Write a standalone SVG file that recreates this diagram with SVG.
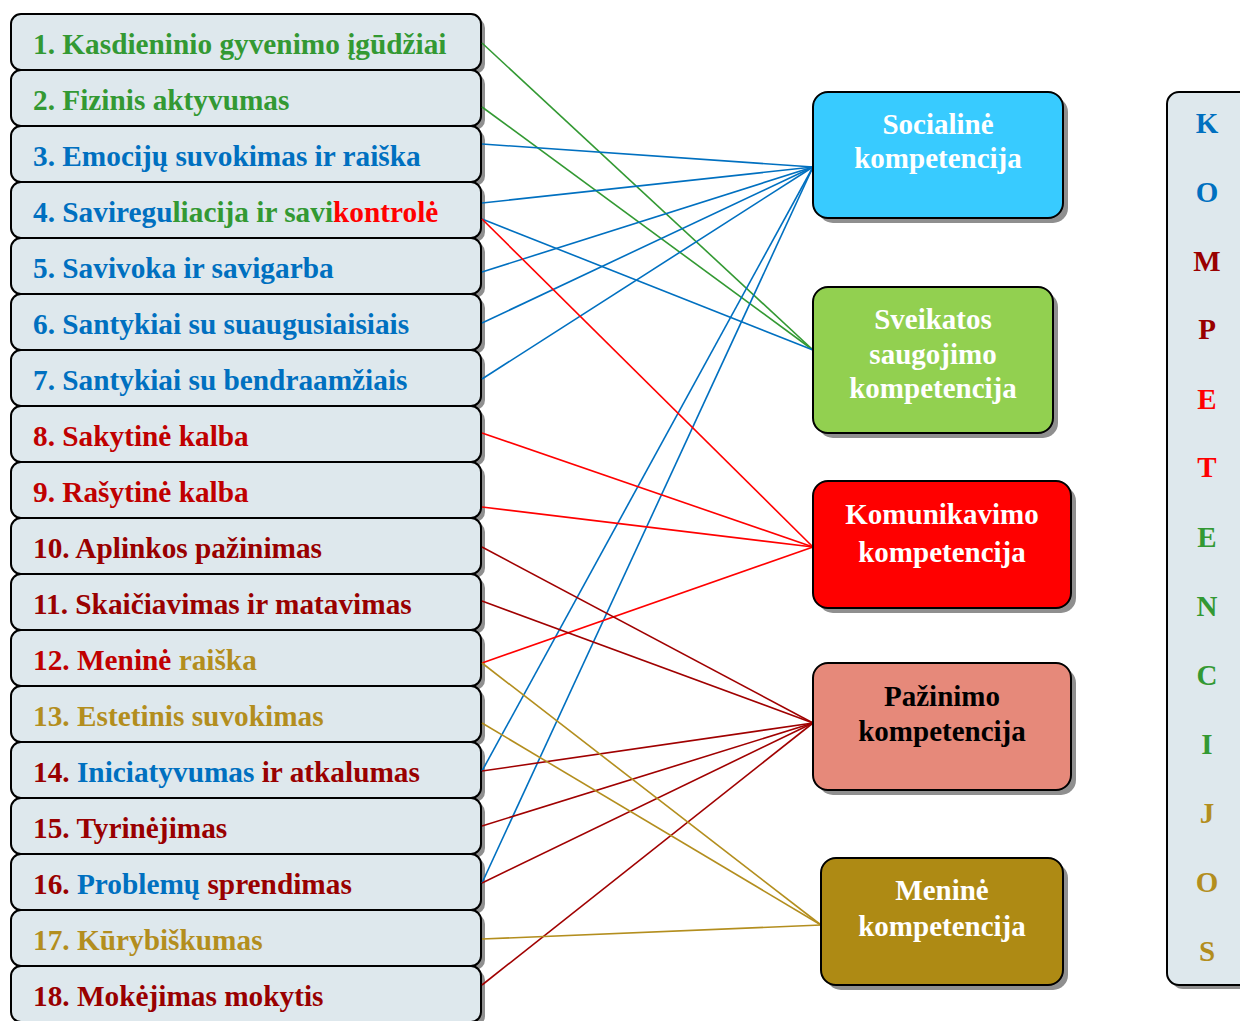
<svg xmlns="http://www.w3.org/2000/svg" width="1240" height="1021" viewBox="0 0 1240 1021">
<defs>
<style>
.lb{fill:#DEE8ED;stroke:#000;stroke-width:2}
.sh{fill:#8f8f8f}
.lt{font-family:"Liberation Serif","Times New Roman",serif;font-weight:bold;font-size:29.3px}
.ct{font-family:"Liberation Serif","Times New Roman",serif;font-weight:bold;font-size:29px;text-anchor:middle}
.rb{stroke:#000;stroke-width:2}
.g{fill:#339933}.b{fill:#0070C0}.r{fill:#FF0000}.dr{fill:#C00000}.mr{fill:#990000}.au{fill:#B38E1E}.w{fill:#fff}.k{fill:#000}
#conn line{stroke-width:1.6;fill:none}
.lg{stroke:#339933}.lbl{stroke:#0070C0}.lr{stroke:#FF0000}.lm{stroke:#A00000}.la{stroke:#B38E1E}
</style>
</defs>
<rect width="1240" height="1021" fill="#fff"/>

<g id="item1"><rect class="sh" x="15" y="18" width="470" height="56" rx="10"/><rect class="lb" x="11" y="14" width="470" height="56" rx="10"/><text class="lt g" x="33" y="54">1. Kasdieninio gyvenimo įgūdžiai</text></g>
<g id="item2"><rect class="sh" x="15" y="74" width="470" height="56" rx="10"/><rect class="lb" x="11" y="70" width="470" height="56" rx="10"/><text class="lt g" x="33" y="110">2. Fizinis aktyvumas</text></g>
<g id="item3"><rect class="sh" x="15" y="130" width="470" height="56" rx="10"/><rect class="lb" x="11" y="126" width="470" height="56" rx="10"/><text class="lt b" x="33" y="166">3. Emocijų suvokimas ir raiška</text></g>
<g id="item4"><rect class="sh" x="15" y="186" width="470" height="56" rx="10"/><rect class="lb" x="11" y="182" width="470" height="56" rx="10"/><text class="lt" x="33" y="222"><tspan class="b">4. Saviregu</tspan><tspan class="g">liacija ir savi</tspan><tspan class="r">kontrolė</tspan></text></g>
<g id="item5"><rect class="sh" x="15" y="242" width="470" height="56" rx="10"/><rect class="lb" x="11" y="238" width="470" height="56" rx="10"/><text class="lt b" x="33" y="278">5. Savivoka ir savigarba</text></g>
<g id="item6"><rect class="sh" x="15" y="298" width="470" height="56" rx="10"/><rect class="lb" x="11" y="294" width="470" height="56" rx="10"/><text class="lt b" x="33" y="334">6. Santykiai su suaugusiaisiais</text></g>
<g id="item7"><rect class="sh" x="15" y="354" width="470" height="56" rx="10"/><rect class="lb" x="11" y="350" width="470" height="56" rx="10"/><text class="lt b" x="33" y="390">7. Santykiai su bendraamžiais</text></g>
<g id="item8"><rect class="sh" x="15" y="410" width="470" height="56" rx="10"/><rect class="lb" x="11" y="406" width="470" height="56" rx="10"/><text class="lt dr" x="33" y="446">8. Sakytinė kalba</text></g>
<g id="item9"><rect class="sh" x="15" y="466" width="470" height="56" rx="10"/><rect class="lb" x="11" y="462" width="470" height="56" rx="10"/><text class="lt dr" x="33" y="502">9. Rašytinė kalba</text></g>
<g id="item10"><rect class="sh" x="15" y="522" width="470" height="56" rx="10"/><rect class="lb" x="11" y="518" width="470" height="56" rx="10"/><text class="lt mr" x="33" y="558">10. Aplinkos pažinimas</text></g>
<g id="item11"><rect class="sh" x="15" y="578" width="470" height="56" rx="10"/><rect class="lb" x="11" y="574" width="470" height="56" rx="10"/><text class="lt mr" x="33" y="614">11. Skaičiavimas ir matavimas</text></g>
<g id="item12"><rect class="sh" x="15" y="634" width="470" height="56" rx="10"/><rect class="lb" x="11" y="630" width="470" height="56" rx="10"/><text class="lt" x="33" y="670"><tspan class="dr">12. Meninė </tspan><tspan class="au">raiška</tspan></text></g>
<g id="item13"><rect class="sh" x="15" y="690" width="470" height="56" rx="10"/><rect class="lb" x="11" y="686" width="470" height="56" rx="10"/><text class="lt au" x="33" y="726">13. Estetinis suvokimas</text></g>
<g id="item14"><rect class="sh" x="15" y="746" width="470" height="56" rx="10"/><rect class="lb" x="11" y="742" width="470" height="56" rx="10"/><text class="lt" x="33" y="782"><tspan class="mr">14. </tspan><tspan class="b">Iniciatyvumas</tspan><tspan class="mr"> ir atkalumas</tspan></text></g>
<g id="item15"><rect class="sh" x="15" y="802" width="470" height="56" rx="10"/><rect class="lb" x="11" y="798" width="470" height="56" rx="10"/><text class="lt mr" x="33" y="838">15. Tyrinėjimas</text></g>
<g id="item16"><rect class="sh" x="15" y="858" width="470" height="56" rx="10"/><rect class="lb" x="11" y="854" width="470" height="56" rx="10"/><text class="lt" x="33" y="894"><tspan class="mr">16. </tspan><tspan class="b">Problemų</tspan><tspan class="mr"> sprendimas</tspan></text></g>
<g id="item17"><rect class="sh" x="15" y="914" width="470" height="56" rx="10"/><rect class="lb" x="11" y="910" width="470" height="56" rx="10"/><text class="lt au" x="33" y="950">17. Kūrybiškumas</text></g>
<g id="item18"><rect class="sh" x="15" y="970" width="470" height="56" rx="10"/><rect class="lb" x="11" y="966" width="470" height="56" rx="10"/><text class="lt mr" x="33" y="1006">18. Mokėjimas mokytis</text></g>

<g id="conn">
<line class="lg" x1="482" y1="43" x2="813" y2="350"/>
<line class="lg" x1="482" y1="107" x2="813" y2="350"/>
<line class="lbl" x1="482" y1="144" x2="813" y2="167"/>
<line class="lbl" x1="482" y1="203" x2="813" y2="167"/>
<line class="lbl" x1="482" y1="272" x2="813" y2="167"/>
<line class="lbl" x1="482" y1="323" x2="813" y2="167"/>
<line class="lbl" x1="482" y1="379" x2="813" y2="167"/>
<line class="lbl" x1="482" y1="771" x2="813" y2="167"/>
<line class="lbl" x1="482" y1="883" x2="813" y2="167"/>
<line class="lbl" x1="482" y1="219" x2="813" y2="350"/>
<line class="lr" x1="482" y1="219" x2="813" y2="547"/>
<line class="lr" x1="482" y1="433" x2="813" y2="547"/>
<line class="lr" x1="482" y1="507" x2="813" y2="547"/>
<line class="lr" x1="482" y1="663" x2="813" y2="547"/>
<line class="lm" x1="482" y1="547" x2="813" y2="723"/>
<line class="lm" x1="482" y1="601" x2="813" y2="723"/>
<line class="lm" x1="482" y1="771" x2="813" y2="723"/>
<line class="lm" x1="482" y1="826" x2="813" y2="723"/>
<line class="lm" x1="482" y1="883" x2="813" y2="723"/>
<line class="lm" x1="482" y1="985" x2="813" y2="723"/>
<line class="la" x1="482" y1="663" x2="821" y2="925"/>
<line class="la" x1="482" y1="723" x2="821" y2="925"/>
<line class="la" x1="482" y1="939" x2="821" y2="925"/>
</g>

<g id="socialine"><rect class="sh" x="818" y="97" width="250" height="126" rx="15"/><rect class="rb" x="813" y="92" width="250" height="126" rx="15" fill="#38CBFF"/><text class="ct w" x="938" y="134">Socialinė</text><text class="ct w" x="938" y="168">kompetencija</text></g>
<g id="sveikatos"><rect class="sh" x="818" y="292" width="240" height="146" rx="15"/><rect class="rb" x="813" y="287" width="240" height="146" rx="15" fill="#92D050"/><text class="ct w" x="933" y="329">Sveikatos</text><text class="ct w" x="933" y="364">saugojimo</text><text class="ct w" x="933" y="398">kompetencija</text></g>
<g id="komunikavimo"><rect class="sh" x="818" y="486" width="258" height="127" rx="15"/><rect class="rb" x="813" y="481" width="258" height="127" rx="15" fill="#FF0000"/><text class="ct w" x="942" y="524">Komunikavimo</text><text class="ct w" x="942" y="562">kompetencija</text></g>
<g id="pazinimo"><rect class="sh" x="818" y="668" width="258" height="127" rx="15"/><rect class="rb" x="813" y="663" width="258" height="127" rx="15" fill="#E6897A"/><text class="ct k" x="942" y="706">Pažinimo</text><text class="ct k" x="942" y="741">kompetencija</text></g>
<g id="menine"><rect class="sh" x="826" y="863" width="242" height="127" rx="15"/><rect class="rb" x="821" y="858" width="242" height="127" rx="15" fill="#AE8A14"/><text class="ct w" x="942" y="900">Meninė</text><text class="ct w" x="942" y="936">kompetencija</text></g>

<g id="kompetencijos"><rect class="sh" x="1171" y="96" width="100" height="893" rx="12"/><rect class="lb" x="1167" y="92" width="100" height="893" rx="12"/>
<text class="ct b" x="1207" y="133">K</text>
<text class="ct b" x="1207" y="202">O</text>
<text class="ct mr" x="1207" y="271">M</text>
<text class="ct mr" x="1207" y="339">P</text>
<text class="ct r" x="1207" y="409">E</text>
<text class="ct r" x="1207" y="477">T</text>
<text class="ct g" x="1207" y="547">E</text>
<text class="ct g" x="1207" y="616">N</text>
<text class="ct g" x="1207" y="685">C</text>
<text class="ct g" x="1207" y="754">I</text>
<text class="ct au" x="1207" y="823">J</text>
<text class="ct au" x="1207" y="892">O</text>
<text class="ct au" x="1207" y="961">S</text>
</g>
</svg>
